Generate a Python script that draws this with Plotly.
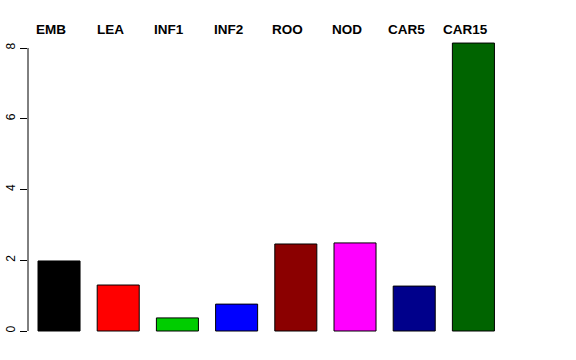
import plotly.graph_objects as go

categories = ["EMB", "LEA", "INF1", "INF2", "ROO", "NOD", "CAR5", "CAR15"]
values = [1.98, 1.30, 0.37, 0.76, 2.46, 2.49, 1.27, 8.14]
colors = ["#000000", "#FF0000", "#00CD00", "#0000FF", "#8B0000", "#FF00FF", "#00008B", "#006400"]
y_ticks = [0, 2, 4, 6, 8]

fig = go.Figure()
fig.add_trace(go.Bar(
    x=categories, y=values,
    marker=dict(color=colors, line=dict(color="#000000", width=1)),
    showlegend=False, hoverinfo="skip",
))

for c in categories:
    fig.add_annotation(
        x=c, y=1.0064, xref="x", yref="paper", text="<b>%s</b>" % c,
        showarrow=False, yanchor="middle", xanchor="center", xshift=-8,
        font=dict(family="Liberation Sans, Arial, sans-serif", size=13.5, color="#000000"),
    )

# R-style axis line spanning only first to last tick
fig.add_shape(type="line", xref="paper", yref="y", x0=0, x1=0,
              y0=min(y_ticks), y1=max(y_ticks),
              line=dict(color="#000000", width=1))

fig.update_layout(
    width=576, height=360,
    margin=dict(l=28, r=28, t=31, b=17, pad=0, autoexpand=False),
    paper_bgcolor="white", plot_bgcolor="white",
    bargap=0.29,
    font=dict(family="Liberation Sans, Arial, sans-serif", size=12, color="#000000"),
    xaxis=dict(range=[-0.524, 8.26], showticklabels=False, showline=False,
               showgrid=False, zeroline=False, ticks="", automargin=False),
    yaxis=dict(range=[-0.339, 8.481], tickvals=y_ticks, ticktext=[str(v) for v in y_ticks],
               tickangle=-90, ticks="outside", ticklen=7, tickcolor="#000000", tickwidth=1,
               showline=False, showgrid=False, zeroline=False, automargin=False,
               tickfont=dict(size=12, color="#000000")),
)

fig.write_html("out.html")
